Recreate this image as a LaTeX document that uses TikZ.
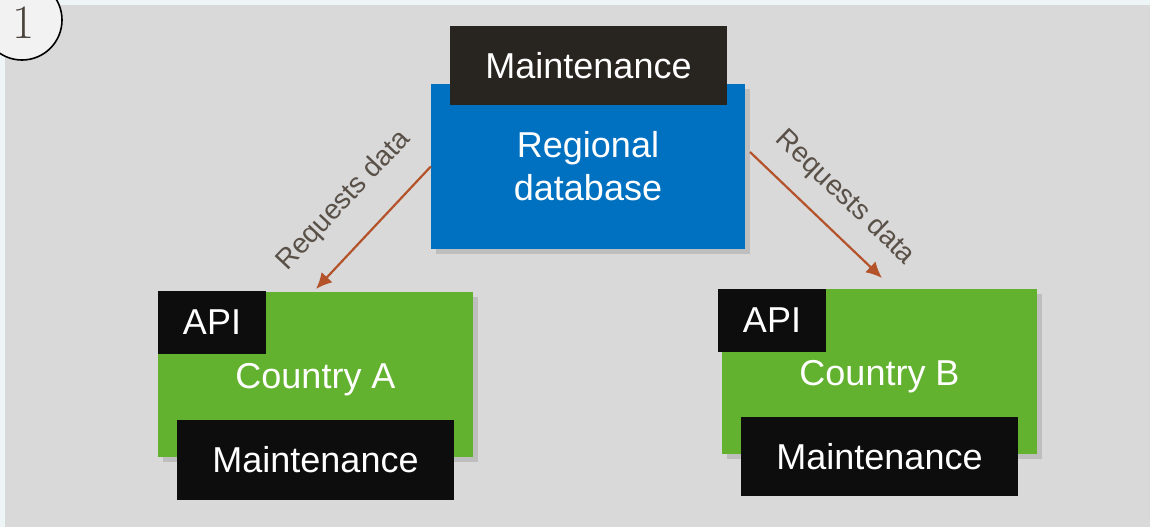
\documentclass[tikz,border=0pt]{standalone}
\usepackage{fontspec}
\setsansfont{Liberation Sans}
\usepackage{tikz}
\usetikzlibrary{arrows,arrows.meta,shadows}
\tikzset{>=latex}
\definecolor{pagebg}{HTML}{EEF5F7}
\definecolor{panelgray}{HTML}{D9D9D9}
\definecolor{regblue}{HTML}{0070C0}
\definecolor{cgreen}{HTML}{63B22F}
\definecolor{darktag}{HTML}{282521}
\definecolor{blacktag}{HTML}{0D0D0D}
\definecolor{reqarrow}{HTML}{B4532A}
\definecolor{reqtext}{HTML}{595048}
\definecolor{numtext}{HTML}{4A433C}

\begin{document}
\begin{tikzpicture}[x=1pt, y=-1pt]
        % box = big coloured block, tag = black label on a block
        \tikzstyle{box}=[rectangle, text=white, align=center,
                drop shadow={shadow xshift=5pt, shadow yshift=-5pt, opacity=0.3},
                font=\sffamily\fontsize{36}{43}\selectfont]
        \tikzstyle{tag}=[rectangle, text=white, font=\sffamily\fontsize{36}{43}\selectfont]
        \tikzstyle{country}=[box, fill=cgreen, minimum width=315pt, minimum height=165pt,
                text height=36pt, text depth=8pt]
        \tikzstyle{req}=[-{Latex[length=16pt,width=15pt]}, reqarrow, line width=2.2pt]
        \tikzstyle{reqlabel}=[text=reqtext, font=\sffamily\fontsize{28}{30}\selectfont]

        \useasboundingbox (0,0) rectangle (1150,527);
        \fill[pagebg] (0,0) rectangle (1150,527);
        \fill[panelgray] (5,5) rectangle (1150,527);

        \node[draw=black, line width=1.6pt, fill=white!95!black, circle,
                minimum size=80pt, inner sep=0pt] (num) at (22,20) {};
        \node[text=numtext, font=\rmfamily\fontsize{48}{50}\selectfont] (numtxt) at (24,23) {1};

        \node[box, fill=regblue, minimum width=314pt, minimum height=165pt] (reg) at (588,166.5) {Regional\\database};
        \node[tag, fill=darktag, minimum width=277pt, minimum height=79pt] (regm) at (588.5,65.5) {Maintenance};

        \node[country] (ctyA) at (315.5,374.5) {Country A};
        \node[tag, fill=blacktag, minimum width=108pt, minimum height=63pt] (apiA) at (212,322.5) {API};
        \node[tag, fill=blacktag, minimum width=277pt, minimum height=80pt] (mntA) at (315.5,460) {Maintenance};

        \node[country] (ctyB) at (879.5,371.5) {Country B};
        \node[tag, fill=blacktag, minimum width=108pt, minimum height=63pt] (apiB) at (772,320.5) {API};
        \node[tag, fill=blacktag, minimum width=277pt, minimum height=79pt] (mntB) at (879.5,456.5) {Maintenance};

        \coordinate (tipA) at (316,289);
        \coordinate (tailB) at (750,152);
        \coordinate (tipB) at (882,278);

        \draw[req] (reg.west) -- (tipA);
        \draw[req] (tailB) -- (tipB);

        \node[reqlabel, rotate=46.7] (labA) at (344,201) {Requests data};
        \node[reqlabel, rotate=-43.7] (labB) at (845,198) {Requests data};

\end{tikzpicture}
\end{document}
